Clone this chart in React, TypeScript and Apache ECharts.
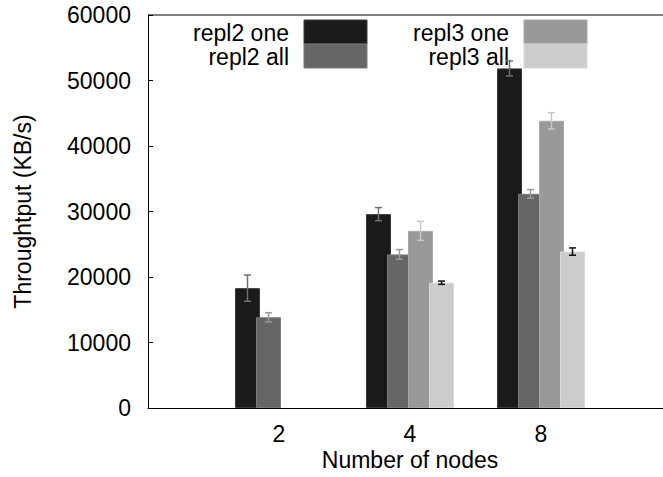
import React, { useEffect, useRef } from "react";
import * as echarts from "echarts";

const categories = ["2", "4", "8"];
const seriesNames = ["repl2 one", "repl2 all", "repl3 one", "repl3 all"];
const repl2One = [18300, 29600, 51850];
const repl2OneErr = [2000, 1000, 1150];
const repl2All = [13850, 23450, 32700];
const repl2AllErr = [700, 740, 650];
const repl3One = [null, 27050, 43850];
const repl3OneErr = [null, 1450, 1250];
const repl3All = [null, 19130, 23880];
const repl3AllErr = [null, 250, 560];
const yMin = 0;
const yMax = 60000;
const yStep = 10000;

const fills = ["#1a1a1a", "#666666", "#999999", "#cccccc"];
const edges = ["#3a3a3a", "#7a7a7a", "#a8a8a8", "#d8d8d8"];
const errColors = ["#6e6e6e", "#9a9a9a", "#c8c8c8", "#111111"];
const FONT = "'Liberation Sans', Arial, sans-serif";

export default function App() {
  const ref = useRef<HTMLDivElement>(null);
  useEffect(() => {
    if (!ref.current) return;
    const chart = echarts.init(ref.current, null, { renderer: "svg" });
    const values = [repl2One, repl2All, repl3One, repl3All];
    const errs = [repl2OneErr, repl2AllErr, repl3OneErr, repl3AllErr];
    const barW = 25;
    const step = 21;

    const barSeries = values.map((vals, i) => ({
      type: "bar",
      name: seriesNames[i],
      data: vals.map((v, k) => (v == null ? [k + 1, null] : [k + 1, v])),
      barWidth: barW,
      barGap: "-16%",
      itemStyle: { color: fills[i], borderColor: edges[i], borderWidth: 1 },
      z: 2,
    }));

    const errSeries = values.map((vals, i) => ({
      type: "custom",
      name: seriesNames[i] + " err",
      data: vals
        .map((v, k) => (v == null ? null : [k + 1, v, errs[i][k]]))
        .filter((d) => d != null),
      z: 5,
      renderItem: (params: any, api: any) => {
        const x = api.value(0);
        const v = api.value(1);
        const e = api.value(2);
        const top = api.coord([x, v + e]);
        const bot = api.coord([x, v - e]);
        const cx = top[0] - (4 * barW - 3 * (barW - step)) / 2 + i * step + barW / 2;
        const cap = 3.5;
        const style = { stroke: errColors[i], lineWidth: 1.5 };
        return {
          type: "group",
          children: [
            { type: "line", shape: { x1: cx, y1: top[1], x2: cx, y2: bot[1] }, style },
            { type: "line", shape: { x1: cx - cap, y1: top[1], x2: cx + cap, y2: top[1] }, style },
            { type: "line", shape: { x1: cx - cap, y1: bot[1], x2: cx + cap, y2: bot[1] }, style },
          ],
        };
      },
    }));

    const legendGraphics: any[] = [];
    const cols = [
      { textX: 289, boxX: 304 },
      { textX: 509, boxX: 524 },
    ];
    seriesNames.forEach((name, i) => {
      const col = cols[Math.floor(i / 2)];
      const row = i % 2;
      const y0 = 20 + row * 24;
      legendGraphics.push({
        type: "text",
        x: col.textX,
        y: y0 + 13,
        style: {
          text: name,
          fill: "#000",
          font: `23px ${FONT}`,
          textAlign: "right",
          textVerticalAlign: "middle",
        },
      });
      legendGraphics.push({
        type: "rect",
        shape: { x: col.boxX, y: y0, width: 63, height: 24 },
        style: { fill: fills[i], stroke: edges[i], lineWidth: 1 },
      });
    });
    // top border of plot frame (right side lies beyond the picture)
    legendGraphics.push({
      type: "line",
      shape: { x1: 148, y1: 15, x2: 700, y2: 15 },
      style: { stroke: "#000", lineWidth: 1 },
    });

    chart.setOption({
      animation: false,
      grid: {
        show: false,
        left: 148,
        top: 15,
        width: 524,
        height: 393,
        containLabel: false,
        outerBoundsMode: "none",
      },
      xAxis: {
        type: "value",
        min: 0,
        max: 4,
        interval: 1,
        name: "Number of nodes",
        nameLocation: "middle",
        nameGap: 40,
        nameMoveOverlap: false,
        nameTextStyle: { fontSize: 23, fontFamily: FONT, color: "#000" },
        axisLine: { show: true, lineStyle: { color: "#000", width: 1 } },
        axisTick: { show: false },
        splitLine: { show: false },
        axisLabel: {
          fontSize: 23,
          fontFamily: FONT,
          color: "#000",
          margin: 14,
          formatter: (v: number) => categories[v - 1] ?? "",
        },
      },
      yAxis: {
        type: "value",
        min: yMin,
        max: yMax,
        interval: yStep,
        name: "Throughtput (KB/s)",
        nameLocation: "middle",
        nameGap: 114,
        nameMoveOverlap: false,
        nameTextStyle: { fontSize: 23, fontFamily: FONT, color: "#000" },
        axisLine: { show: true, lineStyle: { color: "#000", width: 1 } },
        axisTick: { show: true, inside: true, length: 5, lineStyle: { color: "#000" } },
        splitLine: { show: false },
        axisLabel: {
          fontSize: 23,
          fontFamily: FONT,
          color: "#000",
          margin: 17,
          formatter: (v: number) => String(v),
        },
      },
      series: [...barSeries, ...errSeries],
      graphic: legendGraphics,
    } as any);
    return () => chart.dispose();
  }, []);
  return (
    <div
      style={{
        position: "fixed",
        left: 0,
        top: 0,
        width: 663,
        height: 477,
        overflow: "hidden",
        background: "#fff",
      }}
    >
      <div ref={ref} style={{ width: 700, height: 477 }} />
    </div>
  );
}
